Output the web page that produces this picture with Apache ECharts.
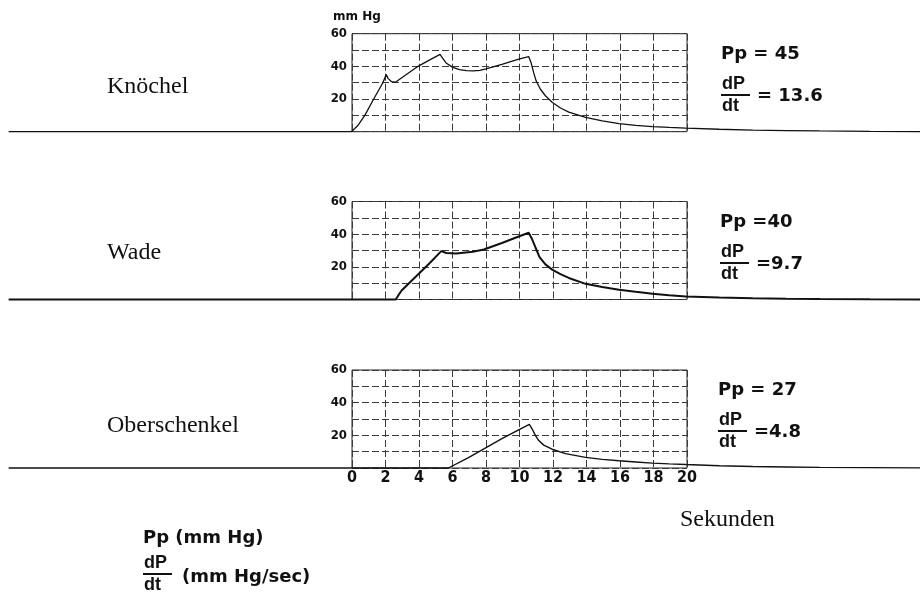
<!DOCTYPE html>
<html>
<head>
<meta charset="utf-8">
<script src="https://cdn.jsdelivr.net/npm/echarts@6/dist/echarts.min.js"></script>
<style>
html,body{margin:0;padding:0;background:#fff;}
#chart{width:920px;height:600px;}
</style>
</head>
<body>
<div id="chart"></div>
<script>
// ---- data ----
const regions = ['Knöchel', 'Wade', 'Oberschenkel'];
const ppValues = ['= 45', '=40', '= 27'];
const dpdtValues = ['= 13.6', '=9.7', '=4.8'];
const xTicks = [0, 2, 4, 6, 8, 10, 12, 14, 16, 18, 20];
const yTicks = [20, 40, 60];
const traceRange = [-20.5, 34];   // seconds covered by the recorded trace (incl. baseline)

const knoechel = [[-20.5,0],[0,0],[0.4,4],[0.8,10],[1.33,20],[1.88,30],[2.08,35],[2.2,32.5],[2.4,30.6],[2.65,30.4],
  [3.9,39.5],[4.6,43.5],[5.3,47.3],[5.45,45],[5.66,42.1],[6.06,39.4],[6.46,38],[6.87,37.4],[7.27,37.2],[7.68,37.6],[8.04,38.4],
  [9,41.2],[10,44.4],[10.6,46],[10.75,42],[10.9,36],[11.05,31],[11.3,26],[11.6,22],[12,18],[12.5,14.5],[13,12],
  [14,8.8],[15,6.6],[16,5],[17,3.9],[18,3.1],[19,2.6],[20,2.2],[22,1.5],[24,1.0],[26,0.7],[28,0.45],[31,0.25],[34,0.1]];

const wade = [[-20.5,0],[2.65,0],[2.8,2.5],[3.0,5.5],[3.92,14.7],[4.7,22.5],[5.37,29.6],[5.67,28.5],[6.27,28.1],[7.26,29.2],[7.92,30.6],
  [9,34.6],[10,38.6],[10.6,40.9],[10.8,37],[11,32],[11.25,26],[11.6,21.5],[12,18.3],[12.5,15.5],[13,13.2],[14,9.6],[15,7.6],
  [16,6],[17,4.7],[18,3.5],[19,2.6],[20,1.9],[22,1.2],[24,0.8],[26,0.5],[28,0.3],[31,0.15],[34,0.05]];

const oberschenkel = [[-20.5,0],[5.8,0],[7,6.3],[8,12.2],[9,18],[10,23.3],[10.64,26.7],[10.8,24],[11,20],[11.2,16.8],[11.5,14],
  [12,11.5],[12.8,8.8],[14,6.5],[15,5.3],[16,4.4],[17,3.7],[18,3],[19,2.5],[20,2.1],[22,1.4],[24,0.9],[26,0.6],[28,0.4],[31,0.2],[34,0.05]];

const curves = [knoechel, wade, oberschenkel];

// ---- layout ----
const gridLeft = 352, gridWidth = 335, gridHeight = 98;
const pxPerSec = gridWidth / (xTicks[xTicks.length - 1] - xTicks[0]);
const gridTops = [33.7, 201.5, 370];
const lineWidths = [1.3, 2, 1.4];
const narrow = '"Liberation Sans Narrow","DejaVu Sans Condensed",sans-serif';
const serif = '"Liberation Serif",serif';
const boldSans = '"DejaVu Sans",sans-serif';
const fracSans = '"Liberation Sans",Arial,sans-serif';
const gridLine = {color: '#3a3a3a', width: 1, type: [7, 3]};

const grids = [], xAxes = [], yAxes = [], series = [];
gridTops.forEach((top, i) => {
  // chart paper grid 0..20 s
  grids.push({left: gridLeft, top: top, width: gridWidth, height: gridHeight, show: true,
    borderColor: '#222', borderWidth: 1, backgroundColor: 'transparent'});
  xAxes.push({type: 'value', gridIndex: 2 * i, min: xTicks[0], max: xTicks[xTicks.length - 1], interval: 2,
    axisLine: {show: false}, axisTick: {show: false},
    axisLabel: {show: i === 2, margin: 2, color: '#111', fontFamily: narrow, fontWeight: 'bold', fontSize: 16},
    splitLine: {show: true, lineStyle: gridLine}});
  yAxes.push({type: 'value', gridIndex: 2 * i, min: 0, max: 60, interval: 10,
    axisLine: {show: false}, axisTick: {show: false},
    axisLabel: {show: true, margin: 5, color: '#111', fontFamily: narrow, fontWeight: 'bold', fontSize: 13,
      formatter: v => yTicks.indexOf(v) >= 0 ? String(v) : ''},
    splitLine: {show: true, lineStyle: gridLine}});
  // full-width trace area, same scale, extending before 0 s and after 20 s
  const tLeft = gridLeft + (traceRange[0] - xTicks[0]) * pxPerSec;
  grids.push({left: tLeft, top: top, width: (traceRange[1] - traceRange[0]) * pxPerSec, height: gridHeight, show: false});
  xAxes.push({type: 'value', gridIndex: 2 * i + 1, min: traceRange[0], max: traceRange[1], show: false,
    splitLine: {show: false}});
  yAxes.push({type: 'value', gridIndex: 2 * i + 1, min: 0, max: 60, show: false, splitLine: {show: false}});
  series.push({type: 'line', xAxisIndex: 2 * i + 1, yAxisIndex: 2 * i + 1, data: curves[i], clip: false,
    showSymbol: false, symbol: 'none', smooth: false, silent: true,
    lineStyle: {color: '#111', width: lineWidths[i]}});
});

const graphic = [];
function txt(x, y, text, size, family, weight, align) {
  graphic.push({type: 'text', x: x, y: y, silent: true,
    style: {text: text, fontSize: size, fontFamily: family, fontWeight: weight || 'normal', fill: '#111',
      align: align || 'left', verticalAlign: 'middle', textAlign: align || 'left', textVerticalAlign: 'middle'}});
}
function frac(x, yBar, barLen) {
  txt(x + 1, yBar - 10.5, 'dP', 18, fracSans, 'bold');
  graphic.push({type: 'line', silent: true, shape: {x1: x, y1: yBar, x2: x + barLen, y2: yBar},
    style: {stroke: '#111', lineWidth: 2}});
  txt(x + 1, yBar + 11.5, 'dt', 18, fracSans, 'bold');
}

txt(333, 17, 'mm Hg', 12, boldSans, 'bold');
const labelY = [87, 253, 426];
const ppY = [54, 222, 390];
const ppX = [721, 720, 718];
regions.forEach((name, i) => {
  txt(107, labelY[i], name, 24, serif);
  txt(ppX[i], ppY[i], 'Pp ' + ppValues[i], 18, boldSans, 'bold');
  frac(ppX[i], ppY[i] + 41, 29);
  txt(ppX[i] + 36, ppY[i] + 42, dpdtValues[i], 18, boldSans, 'bold');
});
txt(680, 520, 'Sekunden', 24, serif);
txt(143, 538, 'Pp (mm Hg)', 18, boldSans, 'bold');
frac(143, 574, 29);
txt(182, 577, '(mm Hg/sec)', 18, boldSans, 'bold');

const chart = echarts.init(document.getElementById('chart'), null, {renderer: 'canvas'});
chart.setOption({
  animation: false,
  backgroundColor: '#fff',
  grid: grids, xAxis: xAxes, yAxis: yAxes, series: series, graphic: graphic
});
</script>
</body>
</html>
